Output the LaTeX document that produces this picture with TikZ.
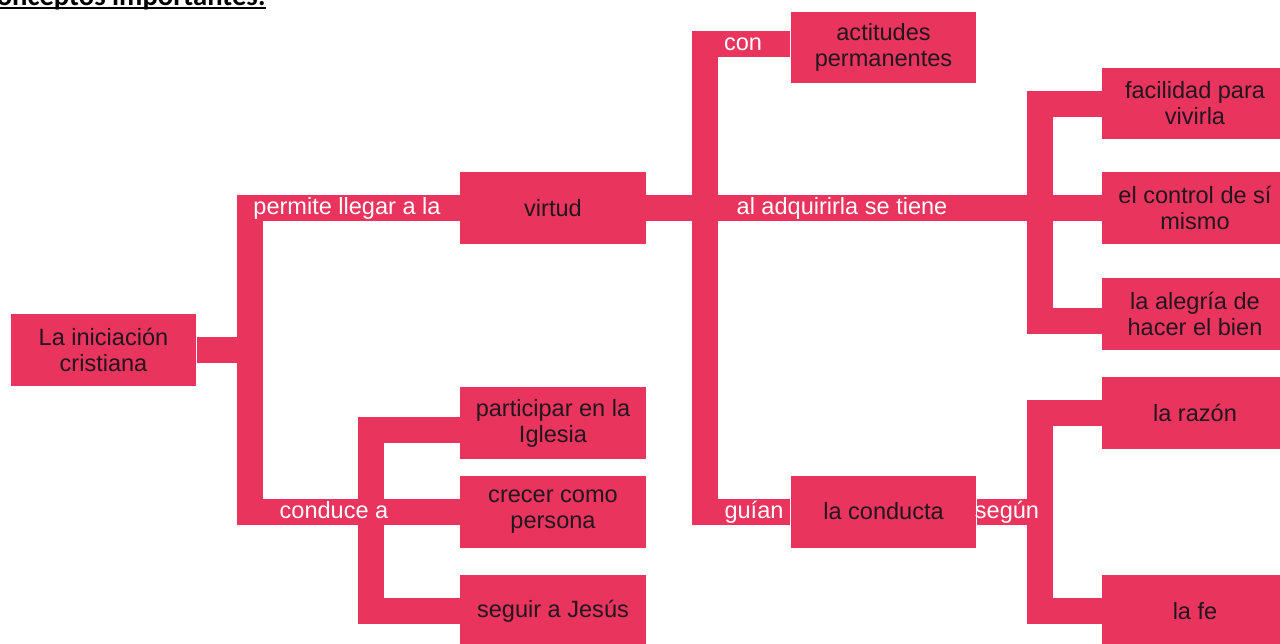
\documentclass[tikz,border=0pt]{standalone}
\usepackage{fontspec}
\setmainfont{Liberation Sans}
\newfontfamily\titlefont{Carlito}
\usepackage{xcolor}
\usetikzlibrary{positioning,calc}
\definecolor{rosa}{HTML}{E9345E}
\definecolor{tinta}{HTML}{22161F}
\newcommand{\subrayado}[1]{\setbox0\hbox{#1}\rlap{\rule[-2.2pt]{\wd0}{1.2pt}}\box0}

\begin{document}
\begin{tikzpicture}[x=0.02cm, y=-0.02cm,
    concept/.style={fill=rosa, text=tinta, minimum width=3.72cm, minimum height=1.44cm, inner sep=0pt, align=center, font=\fontsize{13.4}{14.8}\selectfont},
    bar/.style={draw=rosa, line width=0.52cm, line join=miter},
    lbl/.style={text=white, inner sep=0pt, font=\fontsize{13.4}{14.8}\selectfont}]
    \useasboundingbox (0,0) rectangle (1280,643);

    % Title, cut at the top of the page
    \node[anchor=base east, inner sep=0pt, font=\titlefont\bfseries\fontsize{16.3}{18}\selectfont] (titulo) at (266,5.5) {\subrayado{Conceptos importantes:}};

    % Draw concept boxes
    \node[concept] (ini) at (103.5,349.5) {La iniciación\\cristiana};
    \node[concept] (virtud) at (553,208) {virtud};
    \node[concept] (participar) at (553,423) {participar en la\\Iglesia};
    \node[concept] (crecer) at (553,512) {crecer como\\persona};
    \node[concept] (seguir) at (553,611) {seguir a Jesús};
    \node[concept] (actitudes) at (883.5,47.5) {actitudes\\permanentes};
    \node[concept] (conducta) at (883.5,511.5) {la conducta};
    \node[concept] (facilidad) at (1195,103.5) {facilidad para\\vivirla};
    \node[concept] (control) at (1195,208) {el control de sí\\mismo};
    \node[concept] (alegria) at (1195,313.5) {la alegría de\\hacer el bien};
    \node[concept] (razon) at (1195,413) {la razón};
    \node[concept] (fe) at (1195,611) {la fe};

    % Branch points
    \coordinate (t1) at (249.5,349.5);
    \coordinate (t2) at (370.5,512);
    \coordinate (t3) at (704.5,208);
    \coordinate (t4) at (1040,208);
    \coordinate (t5) at (1040,511.5);

    % Draw connectors
    \draw[bar] (ini.east) -- (t1);
    \draw[bar] (virtud.west) -| (t1) |- (crecer.west);
    \draw[bar] ([yshift=-0.14cm]participar.west) -| (t2) |- (seguir.west);
    \draw[bar] (virtud.east) -- (control.west);
    \draw[bar] ([yshift=0.08cm]actitudes.west) -| (t3) |- (conducta.west);
    \draw[bar] (facilidad.west) -| (t4) |- ([yshift=-0.15cm]alegria.west);
    \draw[bar] (conducta.east) -- (t5);
    \draw[bar] (razon.west) -| (t5) |- (fe.west);

    % Link words
    \node[lbl] (permite) at (347,208) {permite llegar a la};
    \node[lbl] (conduce) at (334,510) {conduce a};
    \node[lbl] (con) at (743,44) {con};
    \node[lbl] (adquirir) at (842,208) {al adquirirla se tiene};
    \node[lbl] (guian) at (754,512) {guían};
    \node[lbl] (segun) at (1007,512) {según};
\end{tikzpicture}
\end{document}
